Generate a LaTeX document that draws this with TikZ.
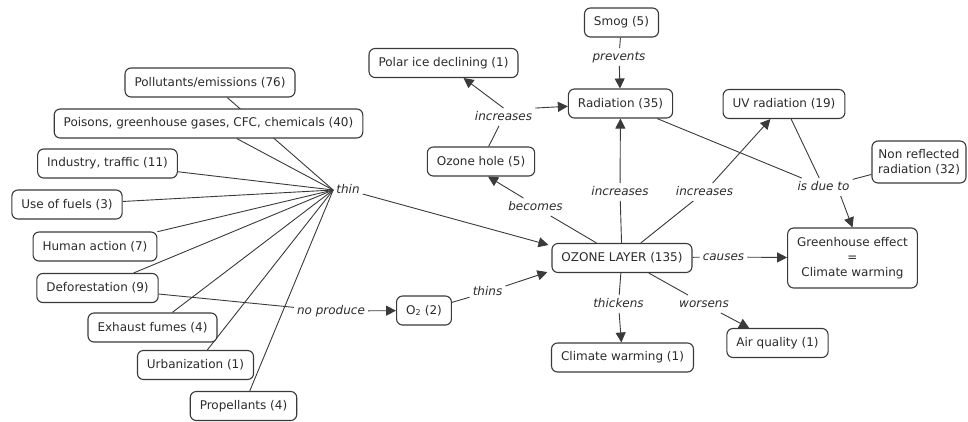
\documentclass[tikz,border=0pt]{standalone}
\usepackage{fontspec}
\setmainfont{DejaVu Sans}
\usetikzlibrary{arrows.meta,backgrounds,calc}
\definecolor{ink}{HTML}{2B2B2B}
\definecolor{edgec}{HTML}{3A3A3A}
\begin{document}
\begin{tikzpicture}[x=1pt,y=-1pt,
  concept/.style={draw=edgec,line width=1.1pt,rounded corners=6pt,fill=white,text=ink,
    font=\fontsize{12}{15}\selectfont,inner xsep=9.5pt,inner ysep=4pt,minimum height=29pt,align=center},
  linklabel/.style={text=ink,font=\fontsize{12}{15}\selectfont\itshape,inner sep=3pt,
    text height=9pt,text depth=2.5pt},
  con/.style={draw=edgec,line width=0.9pt},
  arr/.style={con,-{Triangle[length=10pt,width=10pt]}}]
\useasboundingbox (0,0) rectangle (968,421);

% concepts
\node[concept] (pollut)   at (210,82.5)   {Pollutants/emissions (76)};
\node[concept] (poison)   at (208.5,123.5) {Poisons, greenhouse gases, CFC, chemicals (40)};
\node[concept] (industry) at (107.5,163.5) {Industry, traffic (11)};
\node[concept] (fuels)    at (67,204.5)   {Use of fuels (3)};
\node[concept] (human)    at (95,246.5)   {Human action (7)};
\node[concept] (defor)    at (97.5,288)   {Deforestation (9)};
\node[concept] (exhaust)  at (152.5,327.5) {Exhaust fumes (4)};
\node[concept] (urban)    at (195.5,365)  {Urbanization (1)};
\node[concept] (propel)   at (243.5,406)  {Propellants (4)};
\node[concept] (otwo)     at (424,310.5)  {O\textsubscript{2} (2)};
\node[concept] (ozone)    at (622,258)    {OZONE LAYER (135)};
\node[concept] (hole)     at (481,161.5)  {Ozone hole (5)};
\node[concept] (polar)    at (443.5,63)   {Polar ice declining (1)};
\node[concept] (radiation) at (620.5,103.5) {Radiation (35)};
\node[concept] (smog)     at (621.5,22.5) {Smog (5)};
\node[concept] (uv)       at (784,104)    {UV radiation (19)};
\node[concept,inner xsep=6pt,minimum height=42pt] (nonrefl) at (919,162) {Non reflected\\radiation (32)};
\node[concept,minimum height=60pt] (gh) at (852.5,258) {Greenhouse effect\\=\\Climate warming};
\node[concept] (climate)  at (622.5,357.5) {Climate warming (1)};
\node[concept] (air)      at (777.5,343)  {Air quality (1)};

% linking phrases
\node[linklabel] (thin)     at (348,190)   {thin};
\node[linklabel] (noprod)   at (331,311)   {no produce};
\node[linklabel] (thins)    at (487.5,292) {thins};
\node[linklabel] (becomes)  at (535.5,207) {becomes};
\node[linklabel] (incone)   at (503.5,117) {increases};
\node[linklabel] (prevents) at (619,57)    {prevents};
\node[linklabel] (inctwo)   at (620,192)   {increases};
\node[linklabel] (incthree) at (704.5,192) {increases};
\node[linklabel] (isdue)    at (823.5,187) {is due to};
\node[linklabel] (causes)   at (723.5,257) {causes};
\node[linklabel] (thickens) at (618.5,304) {thickens};
\node[linklabel] (worsens)  at (704,304)   {worsens};

\begin{scope}[on background layer]
  \foreach \n in {pollut,poison,industry,fuels,human,defor,exhaust,urban,propel}
    \draw[con] (\n) -- (thin.west);
  \draw[arr] (thin) -- ([xshift=-3pt,yshift=-2pt]ozone.north west);
  \draw[con] (defor) -- (noprod);
  \draw[arr] (noprod) -- (otwo);
  \draw[con] (otwo) -- (thins);
  \draw[arr] (thins) -- ([xshift=-4pt,yshift=1pt]ozone.south west);
  \draw[con] (ozone) -- (becomes);
  \draw[arr] ([xshift=-12pt]becomes.north) -- ([xshift=7pt]hole.south);
  \draw[con] (hole) -- (incone);
  \draw[arr] (incone.north) -- (polar);
  \draw[arr] (incone.north east) -- (radiation);
  \draw[con] (smog) -- (prevents);
  \draw[arr] (prevents) -- (radiation);
  \draw[con] (ozone) -- (inctwo);
  \draw[arr] (inctwo) -- (radiation);
  \draw[con] (ozone) -- (incthree);
  \draw[arr] (incthree) -- (uv);
  \draw[con] (radiation) -- (isdue);
  \draw[con] (uv) -- (isdue);
  \draw[con] (nonrefl) -- (isdue);
  \draw[arr] ([xshift=-12pt]isdue.south east) -- (gh.north);
  \draw[con] (ozone) -- (causes);
  \draw[arr] (causes) -- (gh);
  \draw[con] (ozone) -- (thickens);
  \draw[arr] (thickens) -- (climate);
  \draw[con] (ozone) -- (worsens);
  \draw[arr] (worsens) -- (air);
\end{scope}
\end{tikzpicture}
\end{document}
